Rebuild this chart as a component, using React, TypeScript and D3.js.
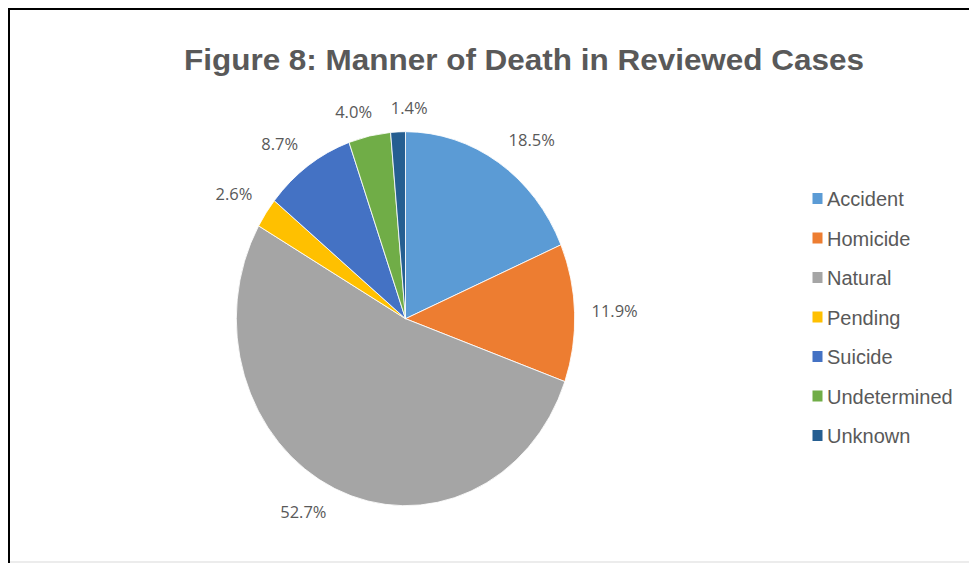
import React from "react";
import * as d3 from "d3";

const categories = ["Accident", "Homicide", "Natural", "Pending", "Suicide", "Undetermined", "Unknown"];
const values = [18.5, 11.9, 52.7, 2.6, 8.7, 4.0, 1.4];
const labels = ["18.5%", "11.9%", "52.7%", "2.6%", "8.7%", "4.0%", "1.4%"];
const colors = ["#5B9BD5", "#ED7D31", "#A5A5A5", "#FFC000", "#4472C4", "#70AD47", "#255E91"];
const title = "Figure 8: Manner of Death in Reviewed Cases";

const W = 969;
const H = 563;
const cx = 405.5;
const cy = 318.7;
const rx = 169.2;
const ry = 187;
const TEXT = "#595959";

export default function App() {
  const pie = d3.pie<number>().sort(null).value((d) => d);
  const arcs = pie(values);
  const arc = d3.arc<d3.PieArcDatum<number>>().innerRadius(0).outerRadius(rx);
  const sy = ry / rx;

  const gap = 14;
  const charW = 10.4;
  const boxH = 20;
  const labelPos = arcs.map((a, i) => {
    const th = (a.startAngle + a.endAngle) / 2;
    const s = Math.sin(th);
    const c = Math.cos(th);
    const ex = cx + rx * s;
    const ey = cy - ry * c;
    const dxr = rx * s;
    const dyr = -ry * c;
    const len = Math.hypot(dxr, dyr);
    const w = labels[i].length * charW;
    const clamp = (v: number) => Math.max(-1, Math.min(1, v));
    const x = ex + (gap * dxr) / len + (w / 2) * clamp(3 * s);
    const y = ey + (gap * dyr) / len + (boxH / 2) * clamp(-3 * c);
    return { x, y, w };
  });
  // simple collision pass: push a label right if it collides with the previous one
  for (let i = 1; i < labelPos.length; i++) {
    const p = labelPos[i - 1];
    const q = labelPos[i];
    if (Math.abs(p.y - q.y) < boxH) {
      const minDist = p.w / 2 + q.w / 2 + 14;
      if (q.x > p.x - 1 && q.x - p.x < minDist) q.x = p.x + minDist;
    }
  }

  const legendY = d3.scaleLinear().domain([0, categories.length - 1]).range([198.5, 435.5]);

  return (
    <svg width={W} height={H} style={{ position: "absolute", left: 0, top: 0, background: "#fff" }}>
      <rect x={0} y={0} width={W} height={H} fill="#fff" />
      <line x1={9} y1={8} x2={9} y2={563} stroke="#000" strokeWidth={2} />
      <line x1={8} y1={9} x2={W} y2={9} stroke="#000" strokeWidth={2} />
      <line x1={10} y1={562} x2={W} y2={562} stroke="#d9d9d9" strokeWidth={1} />
      <text
        x={524}
        y={70}
        textAnchor="middle"
        fontFamily="'Liberation Sans', Arial, sans-serif"
        fontWeight="bold"
        fontSize={30}
        fill={TEXT}
        textLength={680}
        lengthAdjust="spacingAndGlyphs"
      >
        {title}
      </text>
      <g transform={`translate(${cx},${cy}) scale(1,${sy})`}>
        {arcs.map((a, i) => (
          <path key={categories[i]} d={arc(a) || ""} fill={colors[i]} stroke="#fff" strokeWidth={0.8} />
        ))}
      </g>
      {labelPos.map((p, i) => (
        <text
          key={"l" + i}
          x={p.x}
          y={p.y + 6}
          textAnchor="middle"
          fontFamily="'Open Sans', sans-serif"
          fontSize={16.5}
          fill={TEXT}
        >
          {labels[i]}
        </text>
      ))}
      {categories.map((c, i) => (
        <g key={"lg" + c} transform={`translate(0,${legendY(i)})`}>
          <rect x={812.5} y={-5.5} width={10} height={11} fill={colors[i]} />
          <text x={827} y={7.5} fontFamily="'Liberation Sans', Arial, sans-serif" fontSize={20} fill={TEXT}>
            {c}
          </text>
        </g>
      ))}
    </svg>
  );
}
